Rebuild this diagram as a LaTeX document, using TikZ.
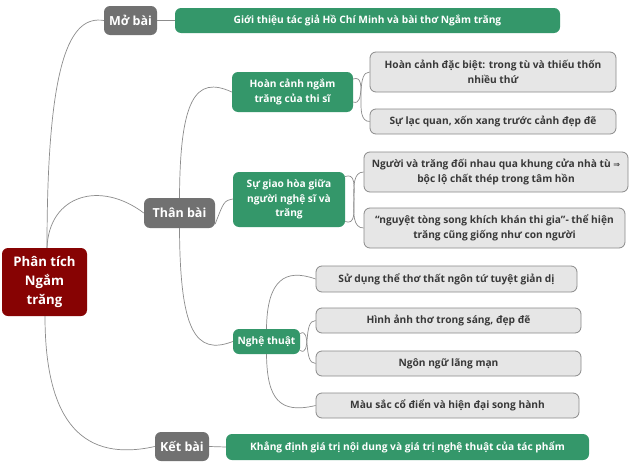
\documentclass[tikz,border=0pt]{standalone}
\usepackage{fontspec}
\setmainfont{Open Sans}
\newfontfamily\symfont{DejaVu Sans}
\definecolor{rootred}{HTML}{870303}
\definecolor{secgray}{HTML}{717171}
\definecolor{grn}{HTML}{34976A}
\definecolor{leafgray}{HTML}{E6E6E6}
\definecolor{leafborder}{HTML}{8A8A8A}
\definecolor{linkgray}{HTML}{8C8C8C}
\begin{document}
\begin{tikzpicture}[x=1pt,y=-1pt,
  box/.style={rounded corners=6pt, align=center, inner sep=2pt},
  rootbox/.style={box, fill=rootred, text=white, font=\bfseries\fontsize{13.2}{19}\selectfont},
  sectbox/.style={box, fill=secgray, text=white, font=\bfseries\fontsize{12.5}{15}\selectfont},
  grnbox/.style={box, fill=grn, text=white, font=\bfseries\fontsize{10.2}{14.5}\selectfont},
  leafbox/.style={box, fill=leafgray, draw=leafborder, line width=0.8pt, text=black!78, font=\bfseries\fontsize{10.2}{15}\selectfont},
  link/.style={draw=linkgray, line width=0.7pt}]
\useasboundingbox[fill=white] (0,0) rectangle (640,471);

% main nodes
\node[rootbox, minimum width=85pt, minimum height=68pt] (root) at (44.5,282) {Phân tích\\Ngắm\\trăng};
\node[sectbox, minimum width=53pt, minimum height=29pt] (mobai) at (130.5,20.5) {Mở bài};
\node[sectbox, minimum width=71pt, minimum height=30pt] (thanbai) at (179.5,213) {Thân bài};
\node[sectbox, minimum width=54pt, minimum height=29pt] (ketbai) at (182,446.5) {Kết bài};

\node[grnbox, minimum width=385pt, minimum height=25pt] (gioithieu) at (367.5,20.5) {Giới thiệu tác giả Hồ Chí Minh và bài thơ Ngắm trăng};
\node[grnbox, minimum width=363pt, minimum height=26pt] (khangdinh) at (407.5,447) {Khẳng định giá trị nội dung và giá trị nghệ thuật của tác phẩm};

\node[grnbox, minimum width=121pt, minimum height=40pt] (hoancanh) at (292.5,92) {Hoàn cảnh ngắm\\trăng của thi sĩ};
\node[grnbox, minimum width=112pt, minimum height=55pt] (giaohoa) at (289,199.5) {Sự giao hòa giữa\\người nghệ sĩ và\\trăng};
\node[grnbox, minimum width=67pt, minimum height=25pt] (nghethuat) at (266.5,341.5) {Nghệ thuật};

% leaves
\node[leafbox, minimum width=246pt, minimum height=40pt] (l1) at (493,72) {Hoàn cảnh đặc biệt: trong tù và thiếu thốn\\nhiều thứ};
\node[leafbox, minimum width=246pt, minimum height=25pt] (l2) at (493,121.5) {Sự lạc quan, xốn xang trước cảnh đẹp đẽ};
\node[leafbox, minimum width=264pt, minimum height=40pt] (l3) at (496,172) {Người và trăng đối nhau qua khung cửa nhà tù {\symfont\fontsize{8}{10}\selectfont ⇒}\\bộc lộ chất thép trong tâm hồn};
\node[leafbox, minimum width=261pt, minimum height=40pt] (l4) at (494.5,228) {“nguyệt tòng song khích khán thi gia”- thể hiện\\trăng cũng giống như con người};
\node[leafbox, minimum width=261pt, minimum height=26pt] (l5) at (446.5,279) {Sử dụng thể thơ thất ngôn tứ tuyệt giản dị};
\node[leafbox, minimum width=265pt, minimum height=25pt] (l6) at (448.5,320.5) {Hình ảnh thơ trong sáng, đẹp đẽ};
\node[leafbox, minimum width=265pt, minimum height=25pt] (l7) at (448.5,363.5) {Ngôn ngữ lãng mạn};
\node[leafbox, minimum width=263pt, minimum height=25pt] (l8) at (447.5,405.5) {Màu sắc cổ điển và hiện đại song hành};

% connectors from root
\draw[link] ([xshift=2.5pt]root.north) .. controls (47,60) and (70,15) .. (mobai.west);
\draw[link] ([xshift=2.5pt]root.north) .. controls (49,195) and (100,180) .. (thanbai.west);
\draw[link] ([xshift=0.5pt]root.south) .. controls (45,425) and (85,462) .. (ketbai.west);

\draw[link] (mobai.east) -- (gioithieu.west);
\draw[link] (ketbai.east) -- (khangdinh.west);

% from Than bai
\draw[link] (thanbai.north) .. controls (180,100) and (195,75) .. (hoancanh.west);
\draw[link] ([yshift=-11pt]thanbai.east) .. controls (224,201) .. ([yshift=0.5pt]giaohoa.west);
\draw[link] (thanbai.south) .. controls (180,330) and (195,356) .. (nghethuat.west);

% from Hoan canh
\draw[link] ([yshift=-10pt]hoancanh.east) to[out=-20,in=180] (l1.west);
\draw[link] ([yshift=13pt]hoancanh.east) to[out=20,in=180] (l2.west);

% from Giao hoa
\draw[link] ([yshift=-22pt]giaohoa.east) to[out=-20,in=180] (l3.west);
\draw[link] ([yshift=23pt]giaohoa.east) to[out=20,in=180] (l4.west);

% from Nghe thuat
\draw[link] (nghethuat.north) .. controls (267,280) and (285,268) .. (l5.west);
\draw[link] ([yshift=-9pt]nghethuat.east) to[out=-30,in=180] (l6.west);
\draw[link] ([yshift=8pt]nghethuat.east) to[out=30,in=180] (l7.west);
\draw[link] (nghethuat.south) .. controls (267,400) and (280,414) .. (l8.west);
\end{tikzpicture}
\end{document}
